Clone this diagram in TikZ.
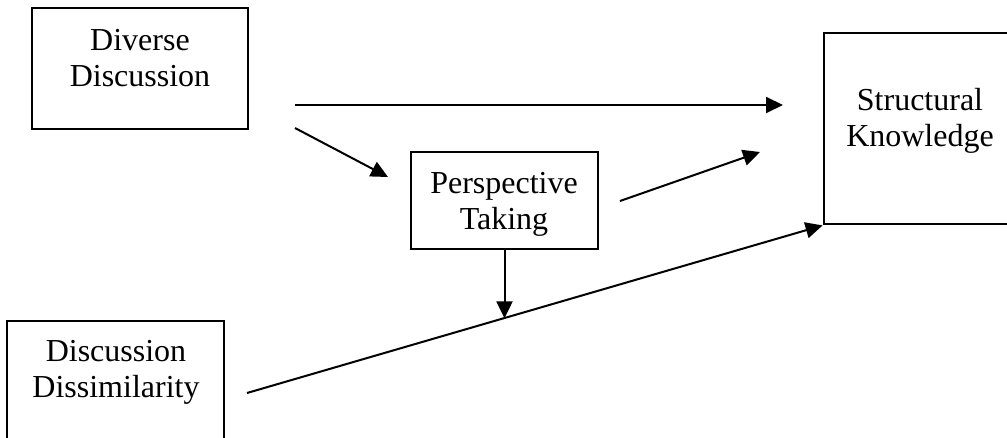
\documentclass[tikz,border=0pt]{standalone}
\usepackage{fontspec}
\setmainfont{Liberation Serif}
\usetikzlibrary{arrows.meta,calc}
\begin{document}
\begin{tikzpicture}[x=1pt,y=-1pt,
  box/.style={draw,line width=2.8pt,rectangle,inner sep=0pt},
  lbl/.style={font=\fontsize{32}{36}\selectfont,align=center,inner sep=0pt,anchor=base},
  conn/.style={line width=2pt,-{Triangle[length=17pt,width=16pt]}}]
\useasboundingbox (0,0) rectangle (1007,437);
\clip (0,0) rectangle (1007,437);
% boxes
\node[box,minimum width=216pt,minimum height=121pt] (dd) at (140,68.5) {};
\node[box,minimum width=187pt,minimum height=97pt] (pt) at (504.5,200.5) {};
\node[box,minimum width=192pt,minimum height=191pt] (sk) at (920,128.5) {};
\node[box,minimum width=217pt,minimum height=139pt] (ds) at (115.5,390.5) {};
% labels
\node[lbl] (ddl1) at (140,50) {Diverse};
\node[lbl] (ddl2) at (140,86) {Discussion};
\node[lbl] (ptl1) at (504,193) {Perspective};
\node[lbl] (ptl2) at (504,229) {Taking};
\node[lbl] (skl1) at (920,110) {Structural};
\node[lbl] (skl2) at (920,146) {Knowledge};
\node[lbl] (dsl1) at (116,361) {Discussion};
\node[lbl] (dsl2) at (116,397) {Dissimilarity};
% free ends of the connectors
\coordinate (h0) at (295,105);
\coordinate (h1) at (783,105);
\coordinate (d0) at (295,128);
\coordinate (d1) at (388,177);
\coordinate (p0) at (620,201);
\coordinate (p1) at (760,152);
\coordinate (s0) at (247,393);
\coordinate (mid) at ($(s0)!0.4454!(sk.south west)$);
% connectors
\draw[conn] (h0) -- (h1);
\draw[conn] (d0) -- (d1);
\draw[conn] (p0) -- (p1);
\draw[conn] (s0) -- (sk.south west);
\draw[conn] (pt.south) -- (pt.south |- mid);
\end{tikzpicture}
\end{document}
